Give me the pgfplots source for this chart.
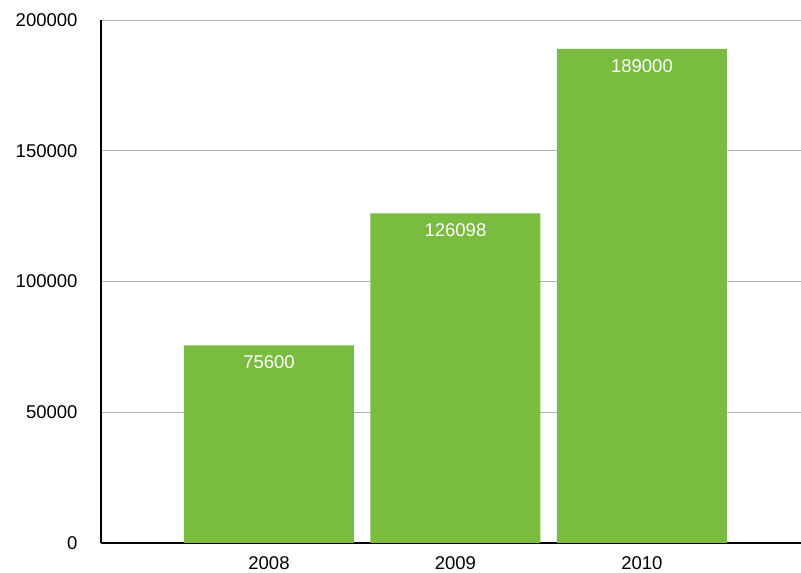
\documentclass[border=0pt]{standalone}
\usepackage{fontspec}
\setmainfont{Liberation Sans}
\usepackage{pgfplots}
\pgfplotsset{compat=1.18}
\definecolor{bargreen}{RGB}{122,188,64}
\begin{document}
\begin{tikzpicture}
\begin{axis}[
  at={(0,0)}, anchor=south west,
  scale only axis, width=700pt, height=523pt,
  ybar, bar width=0.9115, bar shift=0pt,
  xmin=-0.9008, xmax=2.853, ymin=0, ymax=200000,
  xtick=data, xticklabels={2008,2009,2010},
  ytick={0,50000,100000,150000,200000},
  yticklabels={0,50000,100000,150000,200000},
  scaled y ticks=false,
  ymajorgrids, grid style={gray!60, line width=0.8pt},
  axis x line*=bottom, axis y line*=left,
  axis line style={black, line width=1.2pt, -},
  major tick length=0pt,
  ticklabel style={font=\fontsize{18.5}{22}\selectfont},
  yticklabel style={xshift=-20pt},
  xticklabel style={yshift=-10pt},
  point meta=explicit symbolic,
  nodes near coords,
  every node near coord/.style={anchor=north, yshift=-7pt, text=white, font=\fontsize{18.5}{22}\selectfont},
]
\addplot[fill=bargreen, draw=none] coordinates {(0,75600) [75600] (1,126098) [126098] (2,189000) [189000]};
\end{axis}
\pgfresetboundingbox
\path[use as bounding box] (-101pt,-30pt) rectangle (700pt,543pt);
\end{tikzpicture}
\end{document}
